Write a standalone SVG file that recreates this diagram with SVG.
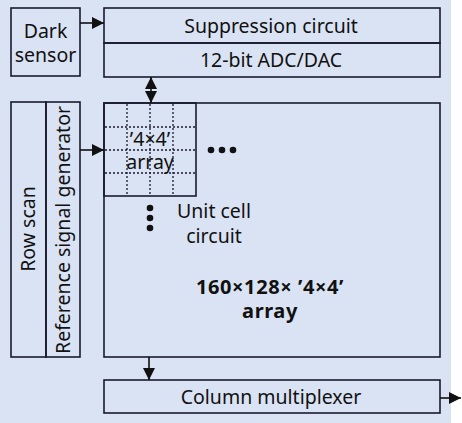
<svg xmlns="http://www.w3.org/2000/svg" width="462" height="423" viewBox="0 0 462 423">
<defs>
<style>
.box{fill:none;stroke:#1a1a2e;stroke-width:1.6}
.t{font-family:"Noto Sans","Open Sans",sans-serif;font-size:19.5px;fill:#111;text-anchor:middle}
.b{font-weight:bold;font-size:20px;letter-spacing:0.6px}
.grid{stroke:#1a1a2e;stroke-width:1.3;stroke-dasharray:2 2;fill:none}
.ln{stroke:#111;stroke-width:1.6;fill:none}
.dot{fill:#111}
</style>
<marker id="ah" viewBox="0 0 12 12" refX="12" refY="6" markerWidth="12" markerHeight="12" markerUnits="userSpaceOnUse" orient="auto-start-reverse">
<path d="M0,0 L12,6 L0,12 Z" fill="#111"/>
</marker>
</defs>
<rect x="0" y="0" width="451" height="423" fill="#DAE3F3"/>
<g id="dark-sensor">
<rect class="box" x="11" y="8" width="69" height="68"/>
<text class="t" x="45.5" y="38">Dark</text>
<text class="t" x="45.5" y="62">sensor</text>
</g>
<g id="suppression">
<rect class="box" x="104" y="8" width="336" height="35"/>
<text class="t" x="271" y="33">Suppression circuit</text>
</g>
<g id="adc">
<rect class="box" x="104" y="43" width="336" height="34"/>
<text class="t" x="271" y="67">12-bit ADC/DAC</text>
</g>
<g id="row-scan">
<rect class="box" x="11" y="102" width="35" height="255"/>
<text class="t" transform="translate(35,229) rotate(-90)">Row scan</text>
</g>
<g id="ref-gen">
<rect class="box" x="46" y="102" width="34" height="255"/>
<text class="t" transform="translate(70,230) rotate(-90)">Reference signal generator</text>
</g>
<g id="main-array">
<rect class="box" x="104" y="103" width="336" height="254"/>
<text class="t b" x="270" y="294">160×128× ’4×4’</text>
<text class="t b" x="270" y="318">array</text>
<text class="t" x="214" y="218">Unit cell</text>
<text class="t" x="214" y="243">circuit</text>
<circle class="dot" cx="211" cy="150" r="3.3"/>
<circle class="dot" cx="222" cy="150" r="3.3"/>
<circle class="dot" cx="233" cy="150" r="3.3"/>
<circle class="dot" cx="150" cy="208" r="3.3"/>
<circle class="dot" cx="150" cy="218" r="3.3"/>
<circle class="dot" cx="150" cy="228" r="3.3"/>
</g>
<g id="sub-array">
<rect class="box" x="104" y="103" width="92" height="93"/>
<path class="grid" d="M127,104V195M150,104V195M173,104V195M105,127H195M105,150H195M105,173H195"/>
<text class="t" x="150" y="146">’4×4’</text>
<text class="t" x="150" y="169">array</text>
</g>
<g id="col-mux">
<rect class="box" x="104" y="380" width="336" height="33"/>
<text class="t" x="271" y="404">Column multiplexer</text>
</g>
<g id="connectors">
<line class="ln" x1="80" y1="23" x2="104" y2="23" marker-end="url(#ah)"/>
<line class="ln" x1="151" y1="77" x2="151" y2="103" marker-start="url(#ah)" marker-end="url(#ah)"/>
<line class="ln" x1="80" y1="150" x2="104" y2="150" marker-end="url(#ah)"/>
<line class="ln" x1="149" y1="357" x2="149" y2="380" marker-end="url(#ah)"/>
<line class="ln" x1="440" y1="398" x2="461" y2="398" marker-end="url(#ah)"/>
</g>
</svg>
